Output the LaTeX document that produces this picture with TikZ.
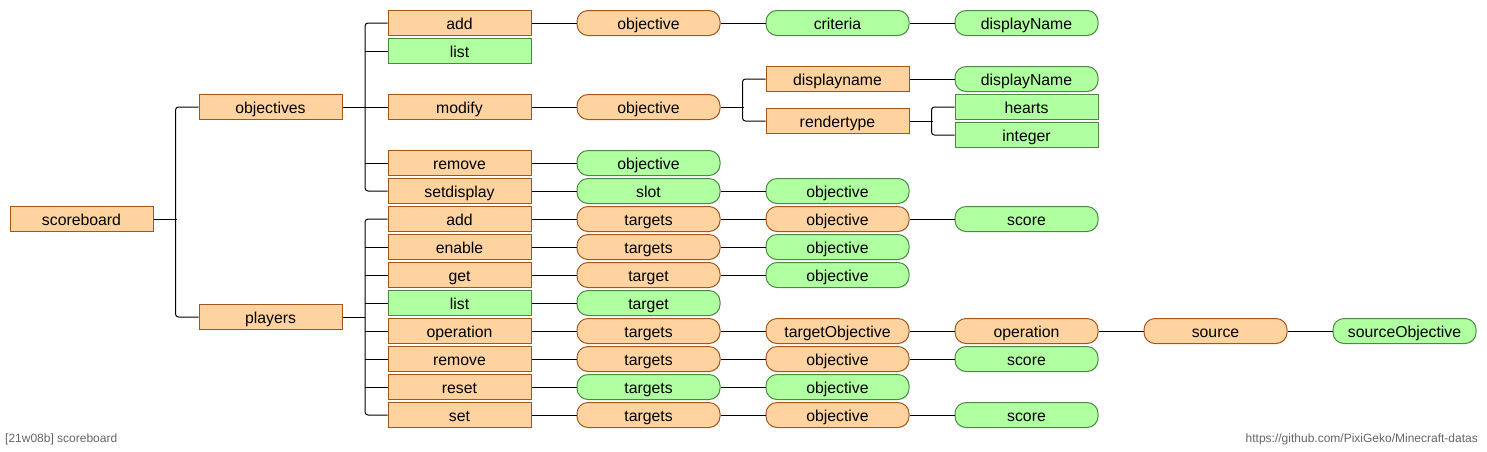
\documentclass[tikz,border=0pt]{standalone}
\usepackage{fontspec}
\setmainfont{Liberation Sans}
\definecolor{ofill}{RGB}{255,211,160}
\definecolor{odraw}{RGB}{165,85,25}
\definecolor{gfill}{RGB}{176,255,160}
\definecolor{gdraw}{RGB}{70,140,60}
\definecolor{foot}{RGB}{100,100,100}
\begin{document}
\begin{tikzpicture}[x=1pt,y=-1pt,
  base/.style={minimum width=143pt,minimum height=25pt,inner sep=0pt,line width=1pt,font=\fontsize{15.8}{16}\selectfont,text height=14pt,text depth=2pt},
  olit/.style={base,rectangle,draw=odraw,fill=ofill},
  glit/.style={base,rectangle,draw=gdraw,fill=gfill},
  oarg/.style={base,rectangle,rounded corners=11pt,draw=odraw,fill=ofill},
  garg/.style={base,rectangle,rounded corners=11pt,draw=gdraw,fill=gfill},
  link/.style={line width=1pt,black},
  trunk/.style={link,rounded corners=3pt},
  foottext/.style={font=\fontsize{12}{12}\selectfont,text=foot,inner sep=0pt}]
\useasboundingbox (0,0) rectangle (1487,451);
% column 1-2
\node[olit] (sb) at (81.5,219) {scoreboard};
\node[olit] (obj) at (270.5,107) {objectives};
\node[olit] (pl) at (270.5,317) {players};
% column 3
\node[olit] (oadd) at (459.5,23) {add};
\node[glit] (olist) at (459.5,51) {list};
\node[olit] (omod) at (459.5,107) {modify};
\node[olit] (orem) at (459.5,163) {remove};
\node[olit] (oset) at (459.5,191) {setdisplay};
\node[olit] (padd) at (459.5,219) {add};
\node[olit] (pen) at (459.5,247) {enable};
\node[olit] (pget) at (459.5,275) {get};
\node[glit] (plist) at (459.5,303) {list};
\node[olit] (pop) at (459.5,331) {operation};
\node[olit] (prem) at (459.5,359) {remove};
\node[olit] (pres) at (459.5,387) {reset};
\node[olit] (pset) at (459.5,415) {set};
% column 4
\node[oarg] (a4) at (648.5,23) {objective};
\node[oarg] (m4) at (648.5,107) {objective};
\node[garg] (r4) at (648.5,163) {objective};
\node[garg] (s4) at (648.5,191) {slot};
\node[oarg] (pa4) at (648.5,219) {targets};
\node[oarg] (pe4) at (648.5,247) {targets};
\node[oarg] (pg4) at (648.5,275) {target};
\node[garg] (pl4) at (648.5,303) {target};
\node[oarg] (po4) at (648.5,331) {targets};
\node[oarg] (pr4) at (648.5,359) {targets};
\node[garg] (px4) at (648.5,387) {targets};
\node[oarg] (ps4) at (648.5,415) {targets};
% column 5
\node[garg] (a5) at (837.5,23) {criteria};
\node[olit] (m5a) at (837.5,79) {displayname};
\node[olit] (m5b) at (837.5,121) {rendertype};
\node[garg] (s5) at (837.5,191) {objective};
\node[oarg] (pa5) at (837.5,219) {objective};
\node[garg] (pe5) at (837.5,247) {objective};
\node[garg] (pg5) at (837.5,275) {objective};
\node[oarg] (po5) at (837.5,331) {targetObjective};
\node[oarg] (pr5) at (837.5,359) {objective};
\node[garg] (px5) at (837.5,387) {objective};
\node[oarg] (ps5) at (837.5,415) {objective};
% column 6
\node[garg] (a6) at (1026.5,23) {displayName};
\node[garg] (m6a) at (1026.5,79) {displayName};
\node[glit] (m6b) at (1026.5,107) {hearts};
\node[glit] (m6c) at (1026.5,135) {integer};
\node[garg] (pa6) at (1026.5,219) {score};
\node[oarg] (po6) at (1026.5,331) {operation};
\node[garg] (pr6) at (1026.5,359) {score};
\node[garg] (ps6) at (1026.5,415) {score};
% column 7-8
\node[oarg] (po7) at (1215.5,331) {source};
\node[garg] (po8) at (1404.5,331) {sourceObjective};
% footers
\node[foottext,anchor=west] (f1) at (5,439) {[21w08b] scoreboard};
\node[foottext,anchor=east] (f2) at (1478,439) {https://github.com/PixiGeko/Minecraft-datas};
% tree connectors
% scoreboard
\draw[link] (sb.east) -- ++(23,0);
\draw[trunk] (obj.west) -- ++(-23,0) |- (pl.west);
% objectives
\draw[link] (obj.east) -- ++(22.5,0);
\draw[trunk] (oadd.west) -- ++(-22.5,0) |- (oset.west);
\foreach \n in {olist,omod,orem} \draw[link] (\n.west) -- ++(-22.5,0);
% players
\draw[link] (pl.east) -- ++(22.5,0);
\draw[trunk] (padd.west) -- ++(-22.5,0) |- (pset.west);
\foreach \n in {pen,pget,plist,pop,prem,pres} \draw[link] (\n.west) -- ++(-22.5,0);
% modify objective
\draw[link] (m4.east) -- ++(23,0);
\draw[trunk] (m5a.west) -- ++(-23,0) |- (m5b.west);
% rendertype
\draw[link] (m5b.east) -- ++(23,0);
\draw[trunk] (m6b.west) -- ++(-23,0) |- (m6c.west);
% straight links
\draw[link] (oadd) -- (a4);
\draw[link] (a4) -- (a5);
\draw[link] (a5) -- (a6);
\draw[link] (omod) -- (m4);
\draw[link] (m5a) -- (m6a);
\draw[link] (orem) -- (r4);
\draw[link] (oset) -- (s4);
\draw[link] (s4) -- (s5);
\draw[link] (padd) -- (pa4);
\draw[link] (pa4) -- (pa5);
\draw[link] (pa5) -- (pa6);
\draw[link] (pen) -- (pe4);
\draw[link] (pe4) -- (pe5);
\draw[link] (pget) -- (pg4);
\draw[link] (pg4) -- (pg5);
\draw[link] (plist) -- (pl4);
\draw[link] (pop) -- (po4);
\draw[link] (po4) -- (po5);
\draw[link] (po5) -- (po6);
\draw[link] (po6) -- (po7);
\draw[link] (po7) -- (po8);
\draw[link] (prem) -- (pr4);
\draw[link] (pr4) -- (pr5);
\draw[link] (pr5) -- (pr6);
\draw[link] (pres) -- (px4);
\draw[link] (px4) -- (px5);
\draw[link] (pset) -- (ps4);
\draw[link] (ps4) -- (ps5);
\draw[link] (ps5) -- (ps6);
\end{tikzpicture}
\end{document}
